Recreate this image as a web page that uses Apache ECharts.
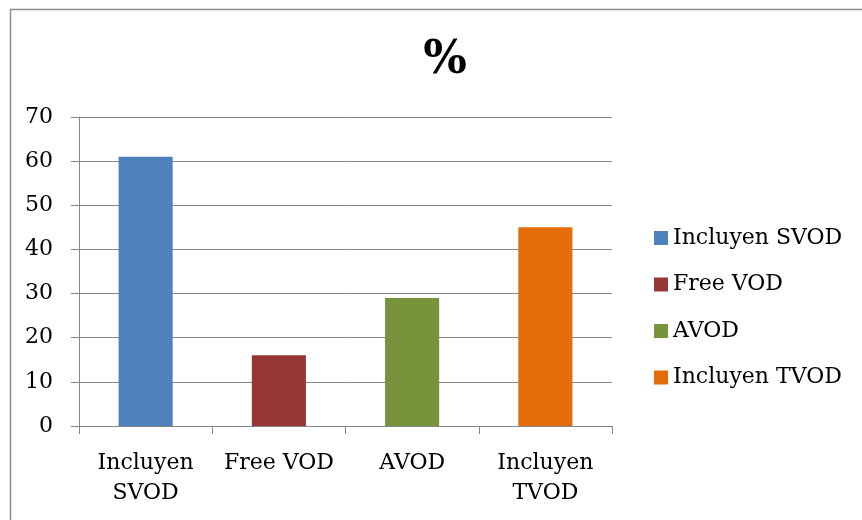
<!DOCTYPE html>
<html lang="es">
<head>
  <meta charset="UTF-8">
  <title>%</title>
  <style>
  html, body { margin: 0; padding: 0; background: #fff; }
  #main { width: 862px; height: 520px; }
  </style>
  <script src="https://cdn.jsdelivr.net/npm/echarts@6/dist/echarts.min.js"></script>
</head>
<body>
  <div id="main"></div>
  <script>
  var categories = ['Incluyen\nSVOD', 'Free VOD', 'AVOD', 'Incluyen\nTVOD']
  var seriesNames = ['Incluyen SVOD', 'Free VOD', 'AVOD', 'Incluyen TVOD']
  var values = [61, 16, 29, 45]
  var colors = ['#4F81BD', '#953735', '#77933C', '#E46C0A']
  var yTicks = [0, 10, 20, 30, 40, 50, 60, 70]

  var font = 'DejaVu Serif'

  // one series per category so the legend lists each bar
  var series = seriesNames.map(function (name, i) {
    var data = categories.map(function () { return '-' })
    data[i] = values[i]
    return {
      name: name,
      type: 'bar',
      stack: 'all',
      barWidth: '40.6%',
      itemStyle: { color: colors[i] },
      data: data
    }
  })

  var chart = echarts.init(document.getElementById('main'))
  chart.setOption({
    animation: false,
    color: colors,
    title: {
      text: '%',
      left: 440,
      top: 33,
      textAlign: 'center',
      textStyle: { fontFamily: font, fontSize: 46, fontWeight: 'bold', color: '#000' }
    },
    legend: {
      orient: 'vertical',
      left: 654,
      top: 227,
      padding: 0,
      itemWidth: 14,
      itemHeight: 14,
      itemGap: 24.5,
      icon: 'rect',
      data: seriesNames,
      textStyle: { fontFamily: font, fontSize: 22, color: '#000' }
    },
    grid: { left: 79, right: 250, top: 117, bottom: 94 },
    xAxis: {
      type: 'category',
      data: categories,
      axisLine: { lineStyle: { color: '#868686', width: 1 } },
      axisTick: { show: true, length: 8, lineStyle: { color: '#868686' } },
      axisLabel: {
        interval: 0,
        hideOverlap: false,
        fontFamily: font, fontSize: 22, color: '#000', margin: 22, lineHeight: 30
      }
    },
    yAxis: {
      type: 'value',
      min: yTicks[0],
      max: yTicks[yTicks.length - 1],
      interval: 10,
      axisLine: { show: true, lineStyle: { color: '#868686', width: 1 } },
      axisTick: { show: true, length: 8, lineStyle: { color: '#868686' } },
      splitLine: { lineStyle: { color: '#868686', width: 1 } },
      axisLabel: { fontFamily: font, fontSize: 22, color: '#000', margin: 26 }
    },
    graphic: [{
      type: 'rect',
      left: 8,
      top: 7,
      shape: { width: 900, height: 600 },
      style: { fill: 'none', stroke: '#8c8c8c', lineWidth: 1.5 },
      silent: true
    }],
    series: series
  })
  </script>
</body>
</html>
